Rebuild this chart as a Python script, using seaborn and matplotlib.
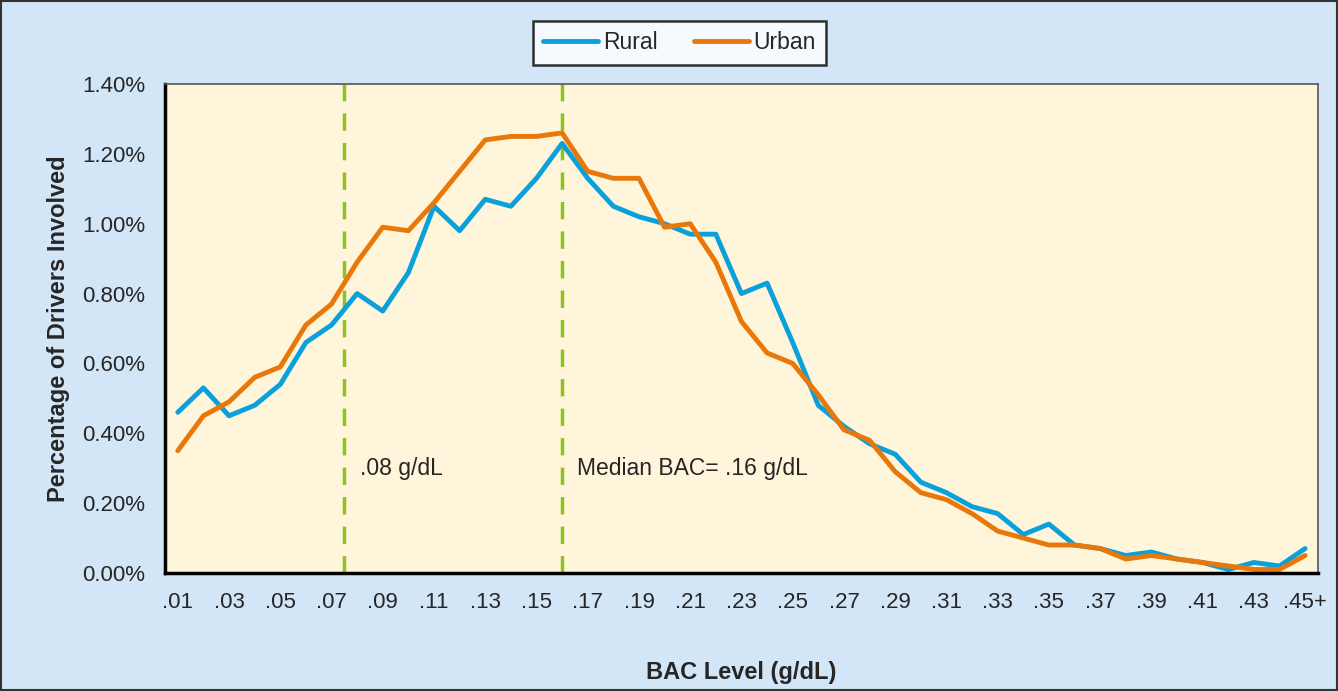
import matplotlib
matplotlib.use("Agg")
import matplotlib.pyplot as plt
import seaborn as sns
import pandas as pd
import numpy as np
from matplotlib.patches import Rectangle
from matplotlib.ticker import FixedLocator, PercentFormatter

bac_labels = [".01", ".02", ".03", ".04", ".05", ".06", ".07", ".08", ".09", ".10",
              ".11", ".12", ".13", ".14", ".15", ".16", ".17", ".18", ".19", ".20",
              ".21", ".22", ".23", ".24", ".25", ".26", ".27", ".28", ".29", ".30",
              ".31", ".32", ".33", ".34", ".35", ".36", ".37", ".38", ".39", ".40",
              ".41", ".42", ".43", ".44", ".45+"]
rural = [0.46, 0.53, 0.45, 0.48, 0.54, 0.66, 0.71, 0.80, 0.75, 0.86,
         1.05, 0.98, 1.07, 1.05, 1.13, 1.23, 1.13, 1.05, 1.02, 1.00,
         0.97, 0.97, 0.80, 0.83, 0.66, 0.48, 0.42, 0.37, 0.34, 0.26,
         0.23, 0.19, 0.17, 0.11, 0.14, 0.08, 0.07, 0.05, 0.06, 0.04,
         0.03, 0.01, 0.03, 0.02, 0.07]
urban = [0.35, 0.45, 0.49, 0.56, 0.59, 0.71, 0.77, 0.89, 0.99, 0.98,
         1.06, 1.15, 1.24, 1.25, 1.25, 1.26, 1.15, 1.13, 1.13, 0.99,
         1.00, 0.89, 0.72, 0.63, 0.60, 0.51, 0.41, 0.38, 0.29, 0.23,
         0.21, 0.17, 0.12, 0.10, 0.08, 0.08, 0.07, 0.04, 0.05, 0.04,
         0.03, 0.02, 0.01, 0.01, 0.05]
ref_lines = [6.5, 15]   # category positions of the .08 and median lines
ref_texts = [".08 g/dL", "Median BAC= .16 g/dL"]

sns.set_style("white")
plt.rcParams['font.family'] = ['Liberation Sans', 'DejaVu Sans']

df = pd.DataFrame({"pos": np.arange(len(bac_labels)), "Rural": rural, "Urban": urban})
df_melt = df.melt(id_vars=["pos"], var_name="Area", value_name="pct")

fig = plt.figure(figsize=(13.38, 6.91), dpi=100, facecolor="#D3E6F7")
fig.patches.append(Rectangle((0.001, 0.001), 0.998, 0.998, transform=fig.transFigure,
                             fill=False, edgecolor="#333333", linewidth=1.5))
ax = fig.add_axes([0.1233, 0.1708, 0.8617, 0.7076])
ax.set_facecolor("#FFF5DA")

ax = sns.lineplot(data=df_melt, x="pos", y="pct", hue="Area",
                  palette={"Rural": "#0AA0DC", "Urban": "#E8780A"},
                  linewidth=3.5, ax=ax, legend=True)

for xv, txt in zip(ref_lines, ref_texts):
    ax.axvline(xv, color="#8DC21F", linestyle=(0, (5, 3.5)), linewidth=2.5, zorder=1)
    ax.text(xv + 0.6, 0.30, txt, fontsize=16.5, va="center", ha="left")

ax.set_xlim(-0.5, len(bac_labels) - 0.5)
ax.set_ylim(0, 1.4)
ax.set_yticks(np.arange(0, 1.41, 0.2))
ax.yaxis.set_major_formatter(PercentFormatter(decimals=2))
ax.set_xticks(np.arange(0, len(bac_labels), 2))
ax.set_xticklabels(bac_labels[::2])
ax.xaxis.set_minor_locator(FixedLocator(np.arange(-0.5, len(bac_labels) - 1, 2)))
ax.tick_params(axis="x", which="major", length=0, pad=14, labelsize=16)
ax.tick_params(axis="x", which="minor", length=7, width=1.5, direction="out", color="black")
ax.tick_params(axis="y", which="major", length=7, width=1.5, direction="out",
               color="black", labelsize=16, pad=7)

for s in ["left", "bottom"]:
    ax.spines[s].set_color("black")
    ax.spines[s].set_linewidth(2.5)
for s in ["top", "right"]:
    ax.spines[s].set_color("#555555")
    ax.spines[s].set_linewidth(1.2)

ax.set_xlabel("BAC Level (g/dL)", fontsize=17, fontweight="bold", labelpad=34)
ax.set_ylabel("Percentage of Drivers Involved", fontsize=17, fontweight="bold", labelpad=9)

handles, labels = ax.get_legend_handles_labels()
ax.legend_.remove()
leg = fig.legend(handles, labels, loc="center", bbox_to_anchor=(0.508, 0.938), ncol=2,
                 fontsize=16.5, frameon=True, fancybox=False, edgecolor="black",
                 handlelength=2.4, columnspacing=1.6, handletextpad=0.2, borderpad=0.45)
leg.get_frame().set_linewidth(1.8)
for h in leg.get_lines():
    h.set_linewidth(3.5)

plt.savefig("out.png", dpi=100, facecolor=fig.get_facecolor())
